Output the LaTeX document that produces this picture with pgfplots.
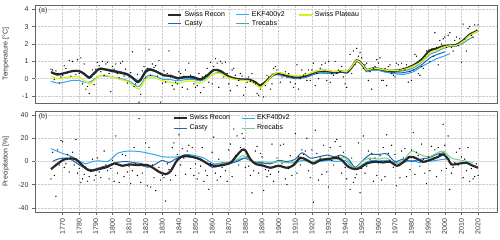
\documentclass[border=0pt]{standalone}
\usepackage{fontspec}
\setmainfont{Liberation Sans}
\usepackage{pgfplots}
\usepackage{pgfplotstable}
\pgfplotsset{compat=1.18}
\definecolor{recon}{RGB}{40,40,40}
\definecolor{ekf}{RGB}{46,166,242}
\definecolor{casty}{RGB}{33,102,172}
\definecolor{plateau}{RGB}{215,240,30}
\definecolor{trecabs}{RGB}{80,160,185}
\definecolor{rrecabs}{RGB}{120,205,140}
\definecolor{frame}{RGB}{100,100,100}
\definecolor{dot}{RGB}{120,120,120}

\pgfplotstableread{
year val
1763 0.55
1764 0.5
1765 -0.05
1766 0.45
1767 0.3
1768 -0.25
1769 0.1
1770 0.2
1771 0.75
1772 0.6
1773 0.35
1774 1.05
1775 0.15
1776 1.0
1777 0.45
1778 0.25
1779 1.1
1780 0.3
1781 1.2
1782 -0.3
1783 0.85
1784 -0.6
1785 -0.45
1786 -0.85
1787 0.1
1788 0.5
1789 -0.35
1790 0.55
1791 0.95
1792 0.75
1793 0.4
1794 1.0
1795 0.2
1796 0.85
1797 0.95
1798 0.3
1799 -0.75
1800 0.7
1801 0.55
1802 0.85
1803 0.3
1804 0.05
1805 0.9
1806 1.0
1807 0.15
1808 0.55
1809 -0.25
1810 0.1
1811 0.35
1812 1.55
1813 -0.45
1814 -0.3
1815 0.25
1816 -1.35
1817 -0.9
1818 0.45
1819 0.7
1820 0.05
1821 0.6
1822 1.7
1823 0.2
1824 0.85
1825 0.65
1826 0.75
1827 0.15
1828 1.05
1829 -1.35
1830 -0.25
1831 0.45
1832 -0.2
1833 0.3
1834 1.6
1835 0.1
1836 -0.4
1837 -0.6
1838 -0.2
1839 -0.3
1840 0.4
1841 0.3
1842 -0.5
1843 0.15
1844 0.5
1845 -0.6
1846 0.9
1847 0.2
1848 0.1
1849 -0.3
1850 -0.5
1851 -0.4
1852 0.3
1853 -0.8
1854 0.1
1855 -0.5
1856 0.2
1857 0.6
1858 -0.2
1859 0.95
1860 -0.3
1861 0.7
1862 1.15
1863 0.9
1864 -0.5
1865 1.0
1866 0.9
1867 0.1
1868 0.95
1869 0.3
1870 -0.3
1871 -0.7
1872 0.5
1873 0.6
1874 0.2
1875 -0.4
1876 -0.1
1877 0.3
1878 0.15
1879 -0.95
1880 -0.5
1881 -0.2
1882 0.1
1883 -0.15
1884 0.3
1885 -0.2
1886 -0.3
1887 -0.85
1888 -0.95
1889 -0.6
1890 -0.3
1891 -1.05
1892 -0.4
1893 0.2
1894 0.1
1895 -0.6
1896 -0.3
1897 0.6
1898 0.7
1899 0.5
1900 0.3
1901 -0.2
1902 0.1
1903 0.2
1904 0.4
1905 0.1
1906 0.3
1907 -0.2
1908 0.1
1909 -0.5
1910 -0.3
1911 0.8
1912 -0.6
1913 0.0
1914 0.5
1915 0.2
1916 0.3
1917 -0.1
1918 0.5
1919 -0.1
1920 0.5
1921 0.9
1922 -0.4
1923 0.3
1924 0.0
1925 0.6
1926 0.8
1927 0.4
1928 0.9
1929 -0.1
1930 1.0
1931 -0.2
1932 0.3
1933 0.2
1934 1.0
1935 0.3
1936 0.5
1937 0.4
1938 0.7
1939 0.1
1940 -0.3
1941 -0.5
1942 0.4
1943 1.4
1944 0.3
1945 1.6
1946 0.8
1947 1.75
1948 1.3
1949 1.5
1950 1.2
1951 0.6
1952 0.8
1953 0.9
1954 -0.1
1955 0.4
1956 -0.6
1957 0.6
1958 0.7
1959 1.1
1960 0.9
1961 1.2
1962 -0.1
1963 -0.1
1964 0.6
1965 -0.4
1966 0.7
1967 0.8
1968 0.3
1969 0.2
1970 0.1
1971 0.9
1972 0.8
1973 0.5
1974 0.9
1975 0.6
1976 0.5
1977 0.8
1978 -0.2
1979 0.4
1980 -0.1
1981 0.5
1982 1.4
1983 1.3
1984 0.3
1985 0.2
1986 0.7
1987 0.6
1988 1.3
1989 1.6
1990 1.6
1991 1.0
1992 1.7
1993 1.3
1994 2.65
1995 1.8
1996 0.8
1997 2.2
1998 2.0
1999 2.3
2000 2.4
2001 1.8
2002 2.5
2003 2.65
2004 1.8
2005 1.6
2006 2.2
2007 2.4
2008 1.9
2009 2.3
2010 0.95
2011 3.15
2012 2.3
2013 1.6
2014 2.9
2015 3.0
2016 2.5
2017 2.4
2018 3.1
2019 2.8
2020 3.1
}\tempdots

\pgfplotstableread{
year val
1763 -15
1764 8
1765 -12
1766 -30
1767 10
1768 -3
1769 18
1770 17
1771 -5
1772 -2
1773 6
1774 -9
1775 4
1776 8
1777 -3
1778 19
1779 -10
1780 -6
1781 -18
1782 -15
1783 -11
1784 -5
1785 -17
1786 -13
1787 -8
1788 2
1789 -16
1790 -12
1791 3
1792 -9
1793 -14
1794 -5
1795 9
1796 -3
1797 -8
1798 -15
1799 -6
1800 1
1801 -17
1802 22
1803 -10
1804 -18
1805 -3
1806 6
1807 -13
1808 5
1809 -9
1810 -4
1811 -19
1812 -8
1813 12
1814 -2
1815 -12
1816 37
1817 -18
1818 -10
1819 -4
1820 16
1821 -21
1822 12
1823 -22
1824 -3
1825 -14
1826 -25
1827 -8
1828 -5
1829 -16
1830 -12
1831 -14
1832 -34
1833 -2
1834 -7
1835 -16
1836 12
1837 16
1838 -12
1839 6
1840 23
1841 -3
1842 11
1843 3
1844 -11
1845 9
1846 14
1847 -6
1848 12
1849 -12
1850 -2
1851 -15
1852 -10
1853 -4
1854 12
1855 -17
1856 -8
1857 -12
1858 -24
1859 -2
1860 8
1861 21
1862 -10
1863 -16
1864 2
1865 -13
1866 -5
1867 -3
1868 -8
1869 -17
1870 10
1871 15
1872 -13
1873 28
1874 5
1875 22
1876 -3
1877 12
1878 24
1879 20
1880 -5
1881 4
1882 -4
1883 -12
1884 -27
1885 -8
1886 9
1887 13
1888 -10
1889 7
1890 4
1891 -25
1892 -7
1893 -13
1894 -8
1895 -11
1896 15
1897 -17
1898 -4
1899 3
1900 -9
1901 14
1902 -2
1903 15
1904 -15
1905 -20
1906 -6
1907 5
1908 -12
1909 -3
1910 24
1911 -10
1912 4
1913 -3
1914 10
1915 6
1916 9
1917 20
1918 -8
1919 -14
1920 10
1921 -35
1922 27
1923 7
1924 -16
1925 3
1926 -11
1927 14
1928 2
1929 -9
1930 -22
1931 12
1932 1
1933 -3
1934 17
1935 19
1936 4
1937 13
1938 -10
1939 8
1940 -5
1941 -15
1942 -4
1943 -24
1944 3
1945 -18
1946 -14
1947 -11
1948 16
1949 -27
1950 -6
1951 22
1952 -10
1953 -4
1954 9
1955 2
1956 7
1957 -17
1958 3
1959 -12
1960 -1
1961 5
1962 -16
1963 12
1964 -13
1965 23
1966 7
1967 1
1968 14
1969 -5
1970 6
1971 -21
1972 -3
1973 -14
1974 9
1975 3
1976 11
1977 -13
1978 4
1979 -7
1980 10
1981 25
1982 -11
1983 8
1984 5
1985 -4
1986 15
1987 2
1988 -10
1989 -19
1990 4
1991 -8
1992 13
1993 3
1994 10
1995 -13
1996 12
1997 6
1998 -8
1999 32
2000 14
2001 -6
2002 22
2003 -24
2004 -10
2005 -5
2006 -1
2007 8
2008 -3
2009 11
2010 4
2011 -14
2012 2
2013 -8
2014 12
2015 -17
2016 -6
2017 -15
2018 -13
2019 -2
2020 -12
}\precdots

\pgfplotsset{
  every axis/.append style={
    scale only axis, width=462pt,
    xmin=1753.4, xmax=2031.4,
    xtick={1770,1780,...,2020},
    tick pos=left, tick align=outside,
    major tick length=3pt,
    axis line style={draw=frame, line width=0.9pt},
    every tick/.style={draw=frame, line width=0.6pt},
    grid=major,
    major grid style={densely dotted, draw=gray!40, line width=0.5pt},
    tick label style={font=\fontsize{7}{8}\selectfont, text=black!80},
    label style={font=\fontsize{7}{8}\selectfont, text=black!80},
    legend style={font=\fontsize{7}{8}\selectfont, draw=none, fill=none, inner sep=0pt},
    legend cell align=left,
    legend image code/.code={\draw[#1] (0pt,0pt) -- (13pt,0pt);},
  },
}

\begin{document}
\begin{tikzpicture}
\useasboundingbox (0,0) rectangle (500pt,240pt);
% ---------------- panel (a)
\begin{axis}[
  at={(35pt,137pt)}, anchor=south west,
  height=98pt,
  ymin=-1.4, ymax=4.25,
  ytick={-1,0,1,2,3,4},
  yticklabels={-1,0,1,2,3,4},
  xticklabels={},
  xtick style={draw=none},
  ylabel={Temperature [°C]},
  ylabel style={at={(axis description cs:-0.063,0.5)}, anchor=center},
  legend columns=3,
  legend style={at={(axis description cs:0.286,0.955)}, anchor=north west,
    /tikz/column 2/.style={column sep=9pt},
    /tikz/column 4/.style={column sep=12pt},
    row sep=-1.5pt},
]
\addplot[forget plot, gray!30, line width=1.2pt] coordinates {(1753.4,0)(2031.4,0)};
\addplot[forget plot, only marks, mark=*, mark size=0.42pt, draw=none, fill=dot] table[x=year,y=val] {\tempdots};
% Casty
\addplot[forget plot, casty, line width=1pt, smooth] coordinates {
(1763,0.35)(1767,0.2)(1771,0.3)(1776,0.42)(1780,0.4)(1783,0.25)(1786,0.02)(1788,0.25)(1792,0.6)(1795,0.58)(1800,0.5)(1805,0.4)(1809,0.3)(1812,0.1)(1815,-0.1)(1817,0.0)(1820,0.5)(1823,0.58)(1827,0.42)(1831,0.22)(1835,0.15)(1839,-0.02)(1844,0.05)(1849,0.02)(1853,-0.1)(1857,0.15)(1861,0.48)(1865,0.4)(1870,0.1)(1876,-0.05)(1882,-0.1)(1886,-0.25)(1889,-0.45)(1893,-0.15)(1897,0.2)(1900,0.25)(1905,0.1)(1911,0.0)(1917,0.1)(1923,0.3)(1928,0.32)(1933,0.28)(1938,0.38)(1941,0.35)(1944,0.65)(1947,1.0)(1950,0.8)(1953,0.42)(1956,0.5)(1960,0.5)(1964,0.4)(1969,0.35)(1975,0.35)(1981,0.5)(1986,0.8)(1991,1.2)(1995,1.38)(2000,1.55)};
% EKF400v2
\addplot[forget plot, ekf, line width=1pt, smooth] coordinates {
(1763,-0.15)(1767,-0.25)(1771,-0.2)(1776,-0.1)(1780,-0.1)(1783,-0.2)(1786,-0.2)(1788,-0.1)(1792,0.15)(1795,0.15)(1800,0.1)(1805,0.0)(1809,-0.1)(1812,-0.25)(1815,-0.45)(1817,-0.35)(1820,0.1)(1823,0.2)(1827,0.1)(1831,-0.05)(1835,-0.05)(1839,-0.12)(1844,-0.05)(1849,-0.05)(1853,-0.12)(1857,0.05)(1861,0.3)(1865,0.35)(1870,0.12)(1876,0.0)(1882,-0.08)(1886,-0.22)(1889,-0.42)(1893,-0.12)(1897,0.2)(1900,0.22)(1905,0.12)(1911,0.05)(1917,0.12)(1923,0.32)(1928,0.35)(1933,0.3)(1938,0.38)(1941,0.3)(1944,0.6)(1947,0.98)(1950,0.78)(1953,0.4)(1956,0.48)(1960,0.48)(1964,0.38)(1969,0.3)(1975,0.25)(1981,0.4)(1986,0.7)(1991,0.95)(1995,1.15)(2000,1.32)(2003,1.45)};
% Trecabs
\addplot[forget plot, trecabs, line width=1pt, smooth] coordinates {
(1864,0.35)(1870,0.1)(1876,-0.05)(1882,-0.08)(1886,-0.22)(1889,-0.42)(1893,-0.12)(1897,0.22)(1900,0.28)(1905,0.15)(1911,0.05)(1917,0.15)(1923,0.38)(1928,0.42)(1933,0.35)(1938,0.4)(1941,0.35)(1944,0.65)(1947,1.02)(1950,0.82)(1953,0.45)(1956,0.55)(1960,0.55)(1964,0.45)(1969,0.42)(1975,0.45)(1981,0.62)(1986,0.95)(1991,1.4)(1995,1.55)(1999,1.75)(2003,1.85)(2007,1.88)(2011,2.05)(2014,2.25)(2017,2.4)};
% Swiss Recon
\addplot[forget plot, recon, line width=2.2pt, smooth] coordinates {
(1763,0.38)(1767,0.25)(1771,0.32)(1776,0.44)(1780,0.44)(1783,0.28)(1786,0.06)(1788,0.22)(1792,0.56)(1795,0.54)(1800,0.44)(1805,0.34)(1809,0.24)(1812,0.06)(1815,-0.19)(1817,-0.06)(1820,0.4)(1823,0.52)(1827,0.38)(1831,0.19)(1835,0.17)(1839,0.04)(1844,0.1)(1849,0.08)(1853,-0.04)(1857,0.19)(1861,0.5)(1865,0.45)(1870,0.12)(1876,-0.03)(1882,-0.05)(1886,-0.2)(1889,-0.4)(1893,-0.1)(1897,0.25)(1900,0.32)(1905,0.19)(1911,0.1)(1917,0.19)(1923,0.42)(1928,0.46)(1933,0.38)(1938,0.42)(1941,0.38)(1944,0.67)(1947,1.06)(1950,0.87)(1953,0.5)(1956,0.58)(1960,0.58)(1964,0.48)(1969,0.46)(1975,0.54)(1981,0.77)(1986,1.1)(1991,1.63)(1995,1.73)(1999,1.88)(2003,1.92)(2007,1.95)(2011,2.2)(2015,2.55)(2020,2.77)};
% Swiss Plateau
\addplot[forget plot, plateau, line width=1.3pt, smooth] coordinates {
(1763,0.15)(1767,0.0)(1771,0.05)(1776,0.12)(1780,0.1)(1783,-0.1)(1786,-0.3)(1788,-0.2)(1792,0.15)(1795,0.2)(1800,0.1)(1805,-0.05)(1809,-0.15)(1812,-0.35)(1815,-0.58)(1817,-0.5)(1820,0.0)(1823,0.1)(1827,0.0)(1831,-0.15)(1835,-0.2)(1839,-0.25)(1844,-0.15)(1849,-0.15)(1853,-0.25)(1857,0.0)(1861,0.28)(1865,0.3)(1870,0.05)(1876,-0.08)(1882,-0.12)(1886,-0.3)(1889,-0.5)(1893,-0.15)(1897,0.25)(1900,0.35)(1905,0.25)(1911,0.15)(1917,0.25)(1923,0.45)(1928,0.5)(1933,0.42)(1938,0.45)(1941,0.4)(1944,0.7)(1947,1.05)(1950,0.85)(1953,0.5)(1956,0.58)(1960,0.58)(1964,0.5)(1969,0.48)(1975,0.52)(1981,0.72)(1986,1.0)(1991,1.5)(1995,1.65)(1999,1.82)(2003,1.9)(2007,1.92)(2011,2.15)(2015,2.5)(2020,2.75)};
\addlegendimage{recon, line width=2.2pt}\addlegendentry{Swiss Recon}
\addlegendimage{ekf, line width=1pt}\addlegendentry{EKF400v2}
\addlegendimage{plateau, line width=1.3pt}\addlegendentry{Swiss Plateau}
\addlegendimage{casty, line width=1pt}\addlegendentry{Casty}
\addlegendimage{trecabs, line width=1pt}\addlegendentry{Trecabs}
\node[anchor=north west, font=\fontsize{7}{8}\selectfont, text=black!80, inner sep=0pt] at (axis description cs:0.008,0.975) {(a)};
\end{axis}
% ---------------- panel (b)
\begin{axis}[
  at={(35pt,28pt)}, anchor=south west,
  height=101pt,
  ymin=-43.5, ymax=43.5,
  ytick={-40,-20,0,20,40},
  yticklabels={-40,-20,0,20,40},
  xticklabels={1770,1780,1790,1800,1810,1820,1830,1840,1850,1860,1870,1880,1890,1900,1910,1920,1930,1940,1950,1960,1970,1980,1990,2000,2010,2020},
  xticklabel style={rotate=90, anchor=east},
  ylabel={Precipitation [\%]},
  ylabel style={at={(axis description cs:-0.063,0.5)}, anchor=center},
  legend columns=2,
  legend style={at={(axis description cs:0.297,0.985)}, anchor=north west,
    /tikz/column 2/.style={column sep=9pt},
    row sep=-0.5pt},
]
\addplot[forget plot, gray!30, line width=1.2pt] coordinates {(1753.4,0)(2031.4,0)};
\addplot[forget plot, only marks, mark=*, mark size=0.42pt, draw=none, fill=dot] table[x=year,y=val] {\precdots};
% EKF400v2
\addplot[forget plot, ekf, line width=1pt, smooth] coordinates {
(1763,11)(1770,7)(1776,4)(1780,0.5)(1784,-2)(1788,0)(1792,0.5)(1797,0)(1800,3)(1803,7)(1809,9)(1817,8.4)(1825,6)(1831,4)(1839,4)(1845,6)(1850,5)(1855,3)(1861,-2)(1866,-1)(1870,-1)(1875,1)(1879,3)(1883,1)(1887,-1)(1891,-2)(1896,-1)(1900,0)(1905,-1)(1910,-1)(1915,1)(1920,-1)(1925,0)(1930,1)(1935,0)(1940,1)(1943,-3)(1947,-6)(1951,-2)(1956,1)(1960,0.5)(1965,1)(1970,-1)(1975,-1)(1980,1)(1985,-1)(1990,0)(1995,1)(2000,2)(2003,2)};
% Casty
\addplot[forget plot, casty, line width=1pt, smooth] coordinates {
(1764,0)(1767,2)(1772,3)(1776,1)(1780,-3)(1784,-6)(1788,-7)(1793,-5)(1798,-3)(1802,-1)(1808,0)(1813,-1)(1818,-2)(1821,-5)(1825,-3)(1830,1)(1834,-1)(1839,3)(1845,4)(1850,3)(1855,0)(1860,-5)(1864,-4)(1870,-2)(1875,0)(1880,3)(1884,0)(1890,-1)(1895,-2)(1900,1)(1905,0)(1910,2)(1914,7.5)(1919,3)(1924,4)(1929,5.5)(1934,4)(1937,5.5)(1942,2)(1946,-5)(1950,0)(1955,6)(1960,6)(1965,6.5)(1970,0)(1975,2)(1980,0)(1985,2)(1990,3)(1995,6)(1999,7.5)(2000,7)};
% Rrecabs
\addplot[forget plot, rrecabs, line width=1pt, smooth] coordinates {
(1864,-2)(1870,-1)(1875,2)(1879,5)(1884,0)(1890,0)(1895,-1)(1900,0)(1905,-1)(1910,0)(1915,3)(1920,0)(1925,2)(1930,3)(1935,2)(1940,3)(1946,-6)(1950,0)(1955,3)(1960,2)(1965,3)(1970,-2)(1975,1)(1980,9)(1985,6)(1990,4)(1995,7)(1999,9)(2004,3)(2010,1)(2014,0)(2017,-1)};
% Swiss Recon
\addplot[forget plot, recon, line width=2.2pt, smooth] coordinates {
(1763,-6.6)(1767,-2)(1771,1.8)(1775,2.6)(1778,1.8)(1781,-2)(1784,-6)(1787,-8)(1791,-6.8)(1797,-4.6)(1801,-1.7)(1806,-3.7)(1810,-2.5)(1815,-3.1)(1821,-3.1)(1825,-6)(1828,-8.9)(1832,-10.9)(1835,-8.3)(1839,1.2)(1843,4.9)(1848,4)(1853,1.8)(1857,-1.7)(1861,-3.7)(1866,-3.1)(1871,-1.1)(1875,5.5)(1878,10)(1880,9.5)(1883,2)(1886,-2)(1891,-3.7)(1895,-5.4)(1900,-3.7)(1905,-5.4)(1909,-3.1)(1913,3.2)(1917,1.2)(1921,-1.7)(1925,1.2)(1930,2.1)(1935,3.2)(1938,1.2)(1942,-4.6)(1946,-6.6)(1949,-5.4)(1953,-1.7)(1958,-0.2)(1963,-0.8)(1967,-0.2)(1971,-3.7)(1974,-1.7)(1979,4)(1983,2.6)(1987,-0.2)(1992,1.8)(1996,4)(1999,6.1)(2002,2.1)(2004,-2.5)(2009,-1.7)(2013,-1.1)(2016,-3.1)(2020,-5.4)};
\addlegendimage{recon, line width=2.2pt}\addlegendentry{Swiss Recon}
\addlegendimage{ekf, line width=1pt}\addlegendentry{EKF400v2}
\addlegendimage{casty, line width=1pt}\addlegendentry{Casty}
\addlegendimage{rrecabs, line width=1pt}\addlegendentry{Rrecabs}
\node[anchor=north west, font=\fontsize{7}{8}\selectfont, text=black!80, inner sep=0pt] at (axis description cs:0.008,0.975) {(b)};
\end{axis}
\end{tikzpicture}
\end{document}
